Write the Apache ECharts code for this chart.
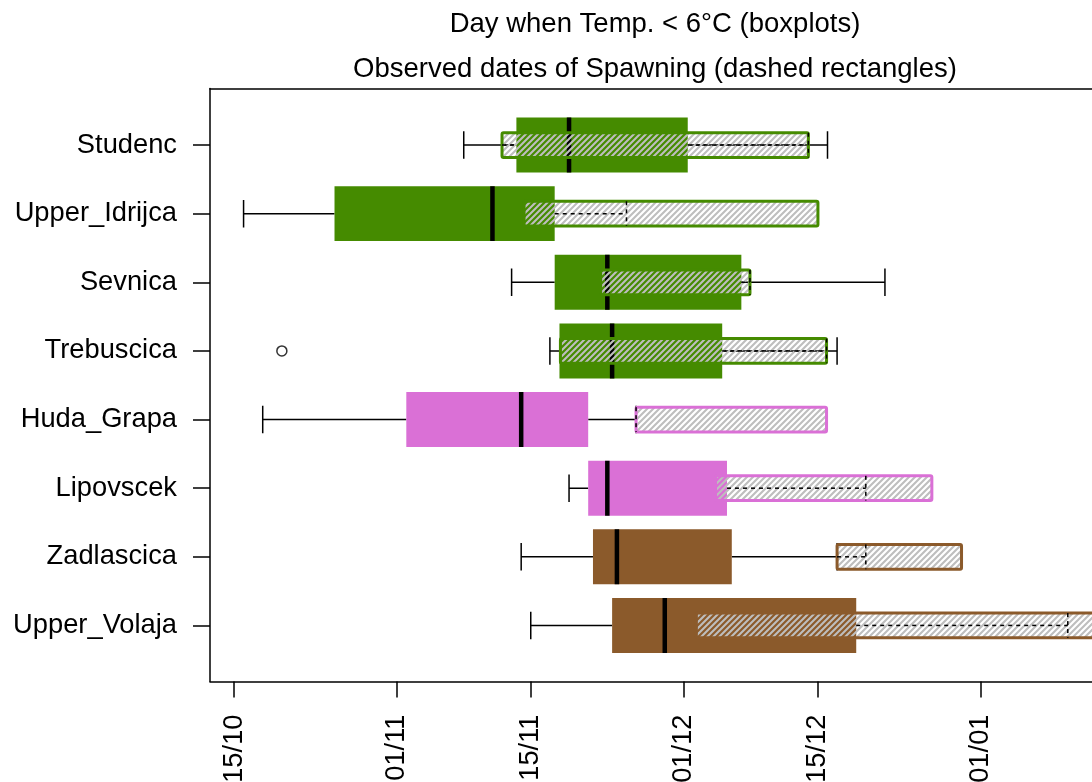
<!DOCTYPE html>
<html>
<head>
<meta charset="utf-8">
<script src="https://cdn.jsdelivr.net/npm/echarts@6/dist/echarts.min.js"></script>
<style>
html,body{margin:0;padding:0;background:#fff;}
#chart{width:1092px;height:782px;}
</style>
</head>
<body>
<div id="chart"></div>
<script>
// ---------- DATA (days after 15 October) ----------
const categories = ['Studenc','Upper_Idrijca','Sevnica','Trebuscica','Huda_Grapa','Lipovscek','Zadlascica','Upper_Volaja'];
const groups     = ['A','A','A','A','B','B','C','C'];
const whiskerLow  = [24, 1, 29, 33, 3, 35, 30, 31];
const q1          = [29.5, 10.5, 33.5, 34, 18, 37, 37.5, 39.5];
const median      = [35, 27, 39, 39.5, 30, 39, 40, 45];
const q3          = [47.4, 33.5, 53, 51, 37, 51.5, 52, 65];
const whiskerHigh = [62, 33.5, 68, 63, 42, 51.5, 63, 65];
const outlierRow  = [4];      // Trebuscica
const outlierDay  = [5];
const spawnStart  = [28, 30.3, 38.3, 34.1, 42, 50.3, 63, 48.3];
const spawnEnd    = [60, 61, 53.9, 61.9, 61.9, 72.9, 76, 92];
const spawnMark   = [60, 41, 53.9, 61.9, 42, 66, 66, 87.1];
const tickDays    = [0, 17, 31, 47, 61, 78];
const tickLabels  = ['15/10','01/11','15/11','01/12','15/12','01/01'];
const titleLines  = ['Day when Temp. < 6\u00B0C (boxplots)', 'Observed dates of Spawning (dashed rectangles)'];

// ---------- STYLE ----------
const groupColor = {A:'#458B00', B:'#DA70D6', C:'#8B5A2B'};
const FONT = '"Liberation Sans", Arial, Helvetica, sans-serif';
const BOX_HALF = 0.4, CAP_HALF = 0.2, RECT_HALF = 0.18;

function makeHatch(){
  const s = 6;
  const c = document.createElement('canvas');
  c.width = s; c.height = s;
  const ctx = c.getContext('2d');
  ctx.strokeStyle = '#BEBEBE';
  ctx.lineWidth = 2.1;
  ctx.beginPath();
  ctx.moveTo(0, s); ctx.lineTo(s, 0);
  ctx.moveTo(-s, s); ctx.lineTo(s, -s);
  ctx.moveTo(0, 2*s); ctx.lineTo(2*s, 0);
  ctx.stroke();
  return c;
}
const hatch = makeHatch();

const rows = categories.map((c, i) => i + 1);

const boxData = rows.map((p, i) => [p, whiskerLow[i], q1[i], median[i], q3[i], whiskerHigh[i], i]);
const spawnData = rows.map((p, i) => [p, spawnStart[i], spawnEnd[i], spawnMark[i], i, q1[i], q3[i]]);
const outlierData = outlierRow.map((r, i) => [outlierDay[i], r]);

const chart = echarts.init(document.getElementById('chart'), null, {renderer:'canvas'});

function pt(api, x, y){ return api.coord([x, y]); }

const XMIN = -2.507, XMAX = 89.63;

chart.setOption({
  animation: false,
  backgroundColor: '#fff',
  textStyle: {fontFamily: FONT},
  graphic: [
    {type:'text', x:655, y:24, z:100, style:{text:titleLines[0], font:'27.5px ' + FONT, fill:'#000', textAlign:'center', textVerticalAlign:'middle'}},
    {type:'text', x:655, y:69, z:100, style:{text:titleLines[1], font:'27.5px ' + FONT, fill:'#000', textAlign:'center', textVerticalAlign:'middle'}}
  ],
  grid: {left:210, top:88.5, width:882, height:593, show:false, outerBoundsMode:'none', containLabel:false},
  xAxis: [{
    type:'value', min:XMIN, max:XMAX, position:'bottom',
    axisLine:{show:true, onZero:false, lineStyle:{color:'#000', width:1.5}},
    splitLine:{show:false},
    axisTick:{show:true, customValues:tickDays, length:16, lineStyle:{color:'#000', width:1.5}},
    axisLabel:{show:true, customValues:tickDays, rotate:90, margin:33, color:'#000', fontSize:27.3, fontFamily:FONT,
      formatter: v => { const k = tickDays.indexOf(v); return k >= 0 ? tickLabels[k] : ''; }}
  }, {
    type:'value', min:XMIN, max:XMAX, position:'top',
    axisLine:{show:true, onZero:false, lineStyle:{color:'#000', width:1.5}},
    splitLine:{show:false}, axisTick:{show:false}, axisLabel:{show:false}
  }],
  yAxis: {
    type:'value', inverse:true, min:0.176, max:8.817,
    axisLine:{show:true, onZero:false, lineStyle:{color:'#000', width:1.5}},
    splitLine:{show:false},
    axisTick:{show:true, customValues:rows, length:17, lineStyle:{color:'#000', width:1.5}},
    axisLabel:{show:true, customValues:rows, margin:33, color:'#000', fontSize:27.3, fontFamily:FONT,
      formatter: v => categories[Math.round(v) - 1] || ''}
  },
  series: [
    {
      name:'boxplots', type:'custom', z:2, clip:true,
      data: boxData,
      encode:{x:[1,2,3,4,5], y:0},
      renderItem: (params, api) => {
        const p = api.value(0), lo = api.value(1), a = api.value(2), md = api.value(3), b = api.value(4), hi = api.value(5);
        const idx = api.value(6);
        const col = groupColor[groups[idx]];
        const wl = {stroke:'#000', lineWidth:1.5};
        const L = pt(api, lo, p), A = pt(api, a, p), B = pt(api, b, p), H = pt(api, hi, p);
        const capT = pt(api, lo, p - CAP_HALF), capB = pt(api, lo, p + CAP_HALF);
        const capT2 = pt(api, hi, p - CAP_HALF), capB2 = pt(api, hi, p + CAP_HALF);
        const bt = pt(api, a, p - BOX_HALF), bb = pt(api, b, p + BOX_HALF);
        const mt = pt(api, md, p - BOX_HALF), mb = pt(api, md, p + BOX_HALF);
        const ch = [
          {type:'line', shape:{x1:L[0], y1:L[1], x2:A[0], y2:A[1]}, style:wl},
          {type:'line', shape:{x1:B[0], y1:B[1], x2:H[0], y2:H[1]}, style:wl},
          {type:'line', shape:{x1:capT[0], y1:capT[1], x2:capB[0], y2:capB[1]}, style:wl}
        ];
        if (hi > b) ch.push({type:'line', shape:{x1:capT2[0], y1:capT2[1], x2:capB2[0], y2:capB2[1]}, style:wl});
        ch.push({type:'rect', shape:{x:bt[0], y:bt[1], width:bb[0]-bt[0], height:bb[1]-bt[1]}, style:{fill:col, stroke:null}});
        ch.push({type:'line', shape:{x1:mt[0], y1:mt[1], x2:mb[0], y2:mb[1]}, style:{stroke:'#000', lineWidth:4.5}});
        return {type:'group', children:ch};
      }
    },
    {
      name:'spawnRects', type:'custom', z:3, clip:false,
      data: spawnData,
      encode:{x:[1,2], y:0},
      renderItem: (params, api) => {
        const p = api.value(0), s = api.value(1), e = api.value(2);
        const idx = api.value(4);
        const col = groupColor[groups[idx]];
        const t = pt(api, s, p - RECT_HALF), u = pt(api, e, p + RECT_HALF);
        return {type:'rect', shape:{x:t[0], y:t[1], width:u[0]-t[0], height:u[1]-t[1], r:1.5},
          style:{fill:{image:hatch, repeat:'repeat'}, stroke:col, lineWidth:3}};
      }
    },
    {
      name:'spawnLines', type:'custom', z:4, clip:true,
      data: spawnData,
      encode:{x:[1,2,3], y:0},
      renderItem: (params, api) => {
        const p = api.value(0), s = api.value(1), m = api.value(3), bq1 = api.value(5), bq3 = api.value(6);
        const ls = {stroke:'#000', lineWidth:1.5, lineDash:[4,4]};
        // horizontal dashed segment from start to mark, hidden where the boxplot's box lies
        const segs = [];
        const lo = Math.min(s, m), hi = Math.max(s, m);
        if (lo < bq1) segs.push([lo, Math.min(hi, bq1)]);
        if (hi > bq3) segs.push([Math.max(lo, bq3), hi]);
        const ch = segs.map(g => {
          const a = pt(api, g[0], p), b = pt(api, g[1], p);
          return {type:'line', shape:{x1:a[0], y1:a[1], x2:b[0], y2:b[1]}, style:ls};
        });
        if (m < bq1 || m > bq3) {
          const t = pt(api, m, p - RECT_HALF), u = pt(api, m, p + RECT_HALF);
          ch.push({type:'line', shape:{x1:t[0], y1:t[1], x2:u[0], y2:u[1]}, style:ls});
        }
        return {type:'group', children:ch};
      }
    },
    {
      name:'outliers', type:'scatter', z:5,
      data: outlierData,
      symbol:'circle', symbolSize:10,
      itemStyle:{color:'rgba(0,0,0,0)', borderColor:'#000', borderWidth:1.5}
    }
  ]
});
</script>
</body>
</html>
